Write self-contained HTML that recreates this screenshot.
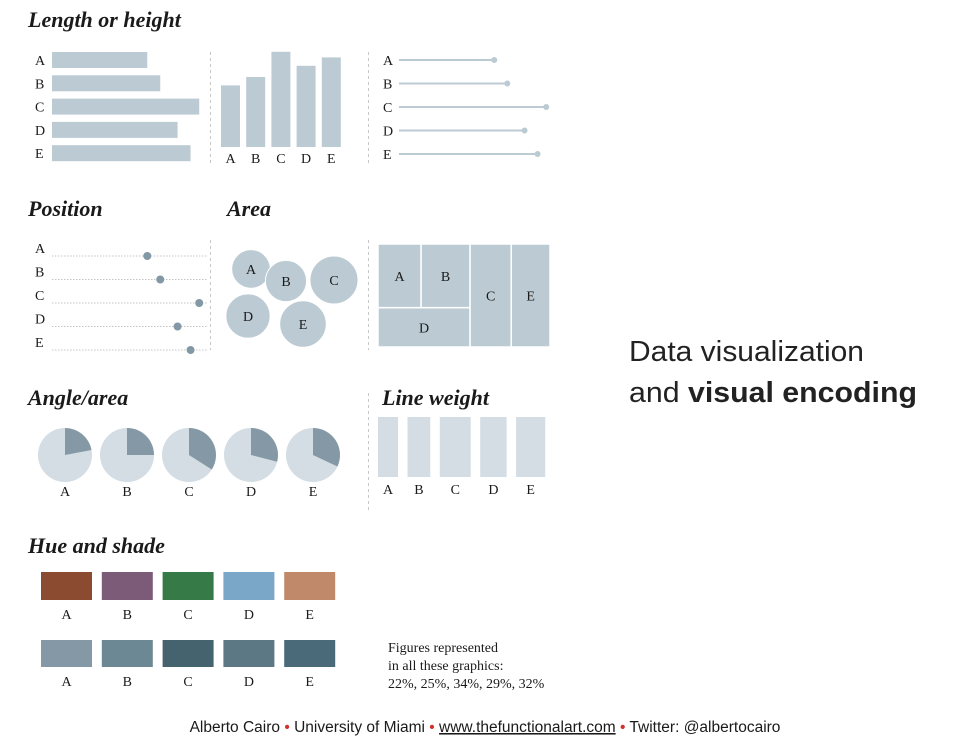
<!DOCTYPE html>
<html><head><meta charset="utf-8"><style>
html,body{margin:0;padding:0;background:#fff;}
svg{display:block;}
.t{font-family:"Liberation Serif",serif;font-weight:bold;font-style:italic;font-size:22px;fill:#1a1a1a;}
.l{font-family:"Liberation Serif",serif;font-size:14px;fill:#1a1a1a;}
.s{font-family:"Liberation Sans",sans-serif;}
</style></head><body>
<svg id="c" width="980" height="740" viewBox="0 0 980 740" xmlns="http://www.w3.org/2000/svg">
<text class="t" x="28" y="27">Length or height</text>
<text class="t" x="28" y="216">Position</text>
<text class="t" x="227" y="216">Area</text>
<text class="t" x="28" y="405">Angle/area</text>
<text class="t" x="382" y="405">Line weight</text>
<text class="t" x="28" y="553">Hue and shade</text>
<g stroke="#c8c8c8" stroke-dasharray="3,3" stroke-width="1">
<line x1="210.5" y1="52" x2="210.5" y2="163"/><line x1="368.5" y1="52" x2="368.5" y2="163"/>
<line x1="210.5" y1="240" x2="210.5" y2="350"/><line x1="368.5" y1="240" x2="368.5" y2="350"/>
<line x1="368.5" y1="393" x2="368.5" y2="510"/>
</g>
<text class="s" x="629" y="361" font-size="29" fill="#222" textLength="235" lengthAdjust="spacingAndGlyphs">Data visualization</text>
<text class="s" x="629" y="402" font-size="29" fill="#222" textLength="288" lengthAdjust="spacingAndGlyphs">and <tspan font-weight="bold">visual encoding</tspan></text>
<g class="l" font-size="13">
<text x="388" y="652">Figures represented</text>
<text x="388" y="670">in all these graphics:</text>
<text x="388" y="688">22%, 25%, 34%, 29%, 32%</text>
</g>
<text class="s" x="485" y="732" font-size="15.5" fill="#1a1a1a" text-anchor="middle">Alberto Cairo <tspan fill="#d0312d">•</tspan> University of Miami <tspan fill="#d0312d">•</tspan> <tspan text-decoration="underline">www.thefunctionalart.com</tspan> <tspan fill="#d0312d">•</tspan> Twitter: @albertocairo</text>
<g id="marks"></g>
</svg>
<script>
const categories = ["A","B","C","D","E"];
const values = [22,25,34,29,32];
const hueColors = ["#8a4b31","#7c5b78","#357a47","#7aa6c8","#c08a6a"];
const shadeColors = ["#8499a5","#6c8894","#44636f","#5c7884","#4a6a7a"];
const NS="http://www.w3.org/2000/svg";
const g=document.getElementById("marks");
function mk(tag,attrs,parent){const e=document.createElementNS(NS,tag);for(const k in attrs)e.setAttribute(k,attrs[k]);(parent||g).appendChild(e);return e;}
function txt(x,y,s,anchor){const e=mk("text",{x:x,y:y,class:"l","text-anchor":anchor||"start"});e.textContent=s;return e;}
const BAR="#bccbd3";
const hx=v=>v*4.33;
categories.forEach((c,i)=>{const y=52+i*23.3;
 const r=mk("rect",{x:52,y:y,width:hx(values[i]),height:16,fill:BAR});
 
 
 txt(35,y+13,c);});
const vy=v=>v*2.8;
categories.forEach((c,i)=>{const x=221+i*25.2,h=vy(values[i]);
 const r=mk("rect",{x:x,y:147-h,width:19,height:h,fill:BAR});
 
 
 txt(x+9.5,163,c,"middle");});
categories.forEach((c,i)=>{const y=60+i*23.5,x2=399+hx(values[i]);
 const l=mk("line",{x1:399,y1:y,x2:x2,y2:y,stroke:BAR,"stroke-width":2});
 
 
 mk("circle",{cx:x2,cy:y,r:3,fill:BAR});
 txt(383,y+5,c);});
categories.forEach((c,i)=>{const y=256+i*23.5;
 mk("line",{x1:52,y1:y,x2:207,y2:y,stroke:"#c4c4c4","stroke-dasharray":"1.5,1.5"});
 const d=mk("circle",{cx:52+hx(values[i]),cy:y,r:4,fill:"#8298a5"});
 
 
 txt(35,y-3,c);});
const circleCenters=[[251,269],[286,281],[334,280],[248,316],[303,324]];
categories.forEach((c,i)=>{const r=4.12*Math.sqrt(values[i]);
 const e=mk("circle",{cx:circleCenters[i][0],cy:circleCenters[i][1],r:r,fill:BAR,stroke:"#fff","stroke-width":1});
 
 
 txt(circleCenters[i][0],circleCenters[i][1]+5,c,"middle");});
(function(){const X0=378,Y0=244,W=172,H=103,tot=values.reduce((a,b)=>a+b,0);
 const g1=values[0]+values[1]+values[3];
 const w1=W*g1/tot,wC=W*values[2]/tot,wE=W-w1-wC;
 const hTop=H*(values[0]+values[1])/g1;
 const wA=w1*values[0]/(values[0]+values[1]);
 const cells=[[0,X0,Y0,wA,hTop],[1,X0+wA,Y0,w1-wA,hTop],[3,X0,Y0+hTop,w1,H-hTop],[2,X0+w1,Y0,wC,H],[4,X0+w1+wC,Y0,wE,H]];
 cells.forEach(([i,x,y,w,h])=>{const r=mk("rect",{x:x,y:y,width:w,height:h,fill:BAR,stroke:"#fff","stroke-width":1.5});
  
  
  txt(x+w/2,y+h/2+5,categories[i],"middle");});
})();
categories.forEach((c,i)=>{const cx=65+i*62,cy=455,r=27;
 mk("circle",{cx:cx,cy:cy,r:r,fill:"#d3dde3"});
 const a=values[i]/100*2*Math.PI;
 const x=cx+r*Math.sin(a),y=cy-r*Math.cos(a);
 const p=mk("path",{d:`M${cx},${cy}L${cx},${cy-r}A${r},${r} 0 ${a>Math.PI?1:0} 1 ${x},${y}Z`,fill:"#8499a5"});
 
 
 txt(cx,496,c,"middle");});
(function(){let x=378;categories.forEach((c,i)=>{const w=values[i]*0.91;
 const r=mk("rect",{x:x,y:417,width:w,height:60,fill:"#d3dde3"});
 
 
 txt(x+w/2,494,c,"middle");x+=w+9.5;});})();
categories.forEach((c,i)=>{const x=41+i*60.8;
 const a=mk("rect",{x:x,y:572,width:51,height:28,fill:hueColors[i]});
 
 
 txt(x+25.5,619,c,"middle");
 const b=mk("rect",{x:x,y:640,width:51,height:27,fill:shadeColors[i]});
 
 
 txt(x+25.5,686,c,"middle");});
</script>
</body></html>
